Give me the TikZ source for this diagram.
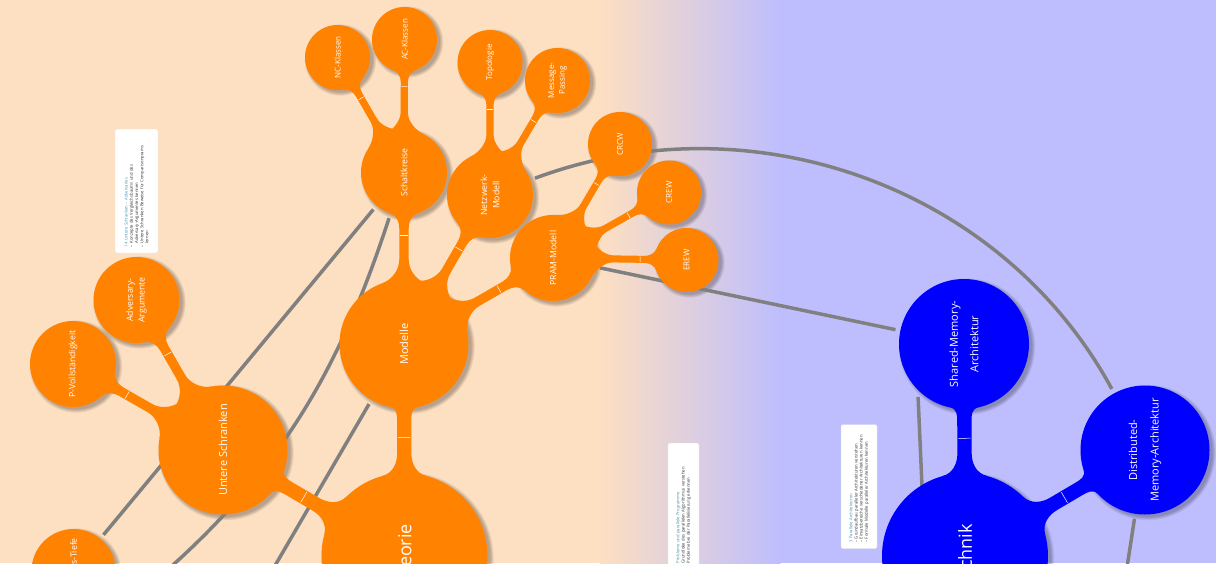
\documentclass[tikz,border=0pt]{standalone}
\usepackage{fontspec}
\setmainfont{Open Sans}
\usetikzlibrary{calc}
\definecolor{peach}{RGB}{253,223,193}
\definecolor{lav}{RGB}{190,190,254}
\definecolor{mmorange}{RGB}{255,130,0}
\definecolor{mmblue}{RGB}{0,0,255}
\definecolor{conngray}{RGB}{128,128,128}
\definecolor{titleteal}{RGB}{70,150,175}
\pgfdeclarelayer{bg}
\pgfdeclarelayer{shadowl}
\pgfdeclarelayer{linesl}
\pgfdeclarelayer{branchl}
\pgfsetlayers{bg,shadowl,linesl,branchl,main}
\tikzset{
  bubble/.style={circle, inner sep=0pt, outer sep=5pt, draw=none},
  blabel/.style={rotate=90, text=white, align=center, inner sep=0pt},
  conn/.style={draw=conngray, line width=3.5pt},
  infobox/.style={rotate=90, fill=white, draw=black!12, line width=0.3pt, rounded corners=2pt,
    align=left, text width=112pt, inner xsep=6pt, inner ysep=3pt,
    font=\fontsize{4.2}{5.2}\selectfont, text=black!80},
}
% name, x, y(down), r, colour, font, text
\newcommand\bubble[7]{%
  \begin{pgfonlayer}{shadowl}
    \foreach \k in {0,...,4}{\fill[black,opacity=0.06] ({#2+3},{-#3-2.5}) circle ({#4+\k*0.8});}
  \end{pgfonlayer}
  \node[bubble, fill=#5, minimum size={2*#4}] (#1) at (#2,-#3) {};
  \node[blabel, font=#6] (#1-t) at (#1.center) {#7};
}
% parent, child, rParent, rChild, colour
\newcommand\branch[5]{%
  \pgfpointanchor{#1}{center}\pgfgetlastxy{\brAx}{\brAy}%
  \pgfpointanchor{#2}{center}\pgfgetlastxy{\brBx}{\brBy}%
  \pgfmathsetmacro\brAng{atan2(\brBy-\brAy,\brBx-\brAx)}%
  \pgfmathsetmacro\brL{veclen(\brBx-\brAx,\brBy-\brAy)}%
  \pgfmathsetmacro\brW{0.11*min(#3,#4)}%
  \pgfmathsetmacro\brHA{min(0.45*#3,22)}%
  \pgfmathsetmacro\brSA{\brHA/#3}%
  \pgfmathsetmacro\brCA{sqrt(1-\brSA*\brSA)}%
  \pgfmathsetmacro\brPAx{#3*\brCA}%
  \pgfmathsetmacro\brPAy{\brHA}%
  \pgfmathsetmacro\brCAx{\brPAx+0.5*\brHA*\brSA}%
  \pgfmathsetmacro\brCAy{\brPAy-0.5*\brHA*\brCA}%
  \pgfmathsetmacro\brNAx{#3+0.9*\brHA}%
  \pgfmathsetmacro\brDAx{#3+0.45*\brHA}%
  \pgfmathsetmacro\brHB{min(0.35*#4,14)}%
  \pgfmathsetmacro\brSB{\brHB/#4}%
  \pgfmathsetmacro\brCB{sqrt(1-\brSB*\brSB)}%
  \pgfmathsetmacro\brNBx{\brL-#4-0.9*\brHB}%
  \pgfmathsetmacro\brDBx{\brL-#4-0.45*\brHB}%
  \pgfmathsetmacro\brPBx{\brL-#4*\brCB}%
  \pgfmathsetmacro\brPBy{\brHB}%
  \pgfmathsetmacro\brCBx{\brPBx-0.5*\brHB*\brSB}%
  \pgfmathsetmacro\brCBy{\brPBy-0.5*\brHB*\brCB}%
  \pgfmathsetmacro\brTx{\brL-1.45*#4}%
  \pgfmathsetmacro\brTy{0.85*\brW}%
  \begin{pgfonlayer}{branchl}
  \begin{scope}[shift={(\brAx,\brAy)}, rotate=\brAng]
    \fill[#5] (\brPAx,\brPAy) .. controls (\brCAx,\brCAy) and (\brDAx,\brW) .. (\brNAx,\brW)
      -- (\brNBx,\brW) .. controls (\brDBx,\brW) and (\brCBx,\brCBy) .. (\brPBx,\brPBy)
      -- (\brPBx,-\brPBy) .. controls (\brCBx,-\brCBy) and (\brDBx,-\brW) .. (\brNBx,-\brW)
      -- (\brNAx,-\brW) .. controls (\brDAx,-\brW) and (\brCAx,-\brCAy) .. (\brPAx,-\brPAy) -- cycle;
    \draw[white, line width=0.5pt] (\brTx,-\brTy) -- (\brTx,\brTy);
  \end{scope}
  \end{pgfonlayer}%
}
\begin{document}
\begin{tikzpicture}[x=1pt,y=1pt]
\useasboundingbox (0,0) rectangle (1216,-563);
\begin{pgfonlayer}{bg}
  \fill[peach] (0,0) rectangle (600,-563);
  \shade[left color=peach, right color=lav] (599.5,0) rectangle (780.5,-563);
  \fill[lav] (780,0) rectangle (1216,-563);
\end{pgfonlayer}

% orange nodes
\bubble{theorie}{404.5}{556}{83}{mmorange}{\fontsize{18}{22}\selectfont}{Theorie}
\bubble{modelle}{404}{344}{64.5}{mmorange}{\fontsize{11}{20.5}\selectfont}{Modelle}
\bubble{untere}{223}{450}{64.5}{mmorange}{\fontsize{11}{20.5}\selectfont}{Untere Schranken}
\bubble{schalt}{404}{172.5}{43}{mmorange}{\fontsize{8.7}{12.3}\selectfont}{Schaltkreise}
\bubble{netz}{490}{195}{43}{mmorange}{\fontsize{8.7}{12.3}\selectfont}{Netzwerk-\\Modell}
\bubble{pram}{553}{258}{43}{mmorange}{\fontsize{8.7}{12.3}\selectfont}{PRAM-Modell}
\bubble{nc}{337.5}{57.5}{32.5}{mmorange}{\fontsize{8}{10.7}\selectfont}{NC-Klassen}
\bubble{ac}{404.5}{39.5}{32.5}{mmorange}{\fontsize{8}{10.7}\selectfont}{AC-Klassen}
\bubble{topo}{490}{62.5}{32.5}{mmorange}{\fontsize{8}{10.7}\selectfont}{Topologie}
\bubble{msg}{557.5}{80.5}{32.5}{mmorange}{\fontsize{8}{10.7}\selectfont}{Message-\\Passing}
\bubble{crcw}{620}{144}{32}{mmorange}{\fontsize{8}{10.7}\selectfont}{CRCW}
\bubble{crew}{669}{192.5}{32}{mmorange}{\fontsize{8}{10.7}\selectfont}{CREW}
\bubble{erew}{686.5}{260}{32}{mmorange}{\fontsize{8}{10.7}\selectfont}{EREW}
\bubble{adv}{136.5}{300}{43}{mmorange}{\fontsize{8.7}{11.7}\selectfont}{Adversary-\\Argumente}
\bubble{pvoll}{73}{364}{43}{mmorange}{\fontsize{8.7}{12.3}\selectfont}{P-Vollständigkeit}
\bubble{tiefe}{73.5}{571}{42}{mmorange}{\fontsize{8.7}{12.3}\selectfont}{Schaltkreis-Tiefe}
% blue nodes
\bubble{technik}{965}{556}{83}{mmblue}{\fontsize{18}{22}\selectfont}{Technik}
\bubble{shared}{964}{344}{65}{mmblue}{\fontsize{11}{20.5}\selectfont}{Shared-Memory-\\Architektur}
\bubble{dist}{1145}{450}{64.5}{mmblue}{\fontsize{11}{21.5}\selectfont}{Distributed-\\Memory-Architektur}

% branches
\branch{theorie}{modelle}{83}{64.5}{mmorange}
\branch{theorie}{untere}{83}{64.5}{mmorange}
\branch{modelle}{schalt}{64.5}{43}{mmorange}
\branch{modelle}{netz}{64.5}{43}{mmorange}
\branch{modelle}{pram}{64.5}{43}{mmorange}
\branch{schalt}{nc}{43}{32.5}{mmorange}
\branch{schalt}{ac}{43}{32.5}{mmorange}
\branch{netz}{topo}{43}{32.5}{mmorange}
\branch{netz}{msg}{43}{32.5}{mmorange}
\branch{pram}{crcw}{43}{32}{mmorange}
\branch{pram}{crew}{43}{32}{mmorange}
\branch{pram}{erew}{43}{32}{mmorange}
\branch{untere}{adv}{64.5}{43}{mmorange}
\branch{untere}{pvoll}{64.5}{43}{mmorange}
\branch{technik}{shared}{83}{65}{mmblue}
\branch{technik}{dist}{83}{64.5}{mmblue}

% cross connectors
\coordinate (cb1) at (340,-368);
\coordinate (cb2) at (280,-480);
\coordinate (offB) at (132,-600);
\coordinate (offC) at (255,-600);
\coordinate (ca1) at (750,-98);
\coordinate (ca2) at (1001,-185);
\coordinate (offS) at (927,-600);
\coordinate (offD) at (1122,-600);
\begin{pgfonlayer}{linesl}
  \draw[conn] (schalt) -- (tiefe);
  \draw[conn] (schalt) .. controls (cb1) and (cb2) .. (offB);
  \draw[conn] (modelle) -- (offC);
  \draw[conn] (pram) -- (shared);
  \draw[conn] (netz) .. controls (ca1) and (ca2) .. (dist);
  \draw[conn] (shared.229) -- (offS);
  \draw[conn] (dist) -- (offD);
\end{pgfonlayer}

% info boxes
\node[infobox, minimum height=43pt] (box1) at (136.5,-191) {%
  {\color{titleteal}14 Untere Schranken – Adversaries}\\
  – Konzepte des Vergleichsbaums und des\\
  \hphantom{– }Adversary-Argumentes kennen\\
  – Untere Schranken Beweise für Comparisonprams\\
  \hphantom{– }lernen};
\node[infobox, minimum height=31pt, text width=118pt] (box2) at (683.5,-508) {%
  {\color{titleteal}2 Probleme und parallele Programme}\\
  – Grundidee des parallelen Algorithmus verstehen\\
  – Probleme bei der Parallelisierung erkennen};
\node[infobox, minimum height=36pt] (box3) at (859,-486.5) {%
  {\color{titleteal}3 Parallele Architekturen}\\
  – Grundaufbau paralleler Architekturen verstehen\\
  – Einsatzbereiche verschiedener Architekturen kennen\\
  – Formale Modelle paralleler Architekturen kennen};
\end{tikzpicture}
\end{document}
